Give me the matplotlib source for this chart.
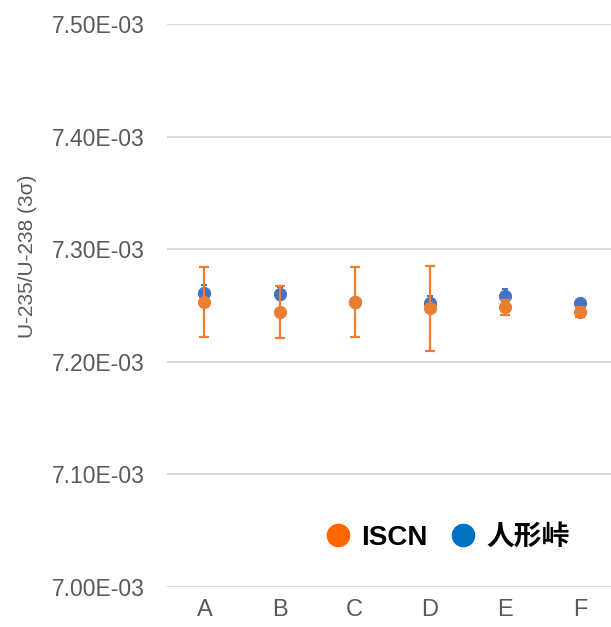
import matplotlib
matplotlib.use("Agg")
import matplotlib.pyplot as plt
from matplotlib.lines import Line2D

plt.rcParams['font.family'] = ['Liberation Sans', 'Noto Sans CJK JP', 'DejaVu Sans']

categories = ["A", "B", "C", "D", "E", "F"]
iscn = [7.2531e-3, 7.2442e-3, 7.2534e-3, 7.2475e-3, 7.2484e-3, 7.2445e-3]
iscn_err = [0.0310e-3, 0.0235e-3, 0.0310e-3, 0.0378e-3, 0.0065e-3, 0.0045e-3]
ningyo = [7.2608e-3, 7.2605e-3, 7.2530e-3, 7.2520e-3, 7.2587e-3, 7.2525e-3]
ningyo_err = [0.0075e-3, 0.0055e-3, 0.0040e-3, 0.0060e-3, 0.0060e-3, 0.0030e-3]
yticks = [7.00e-3, 7.10e-3, 7.20e-3, 7.30e-3, 7.40e-3, 7.50e-3]

fig = plt.figure(figsize=(6.11, 6.27), dpi=100)
ax = fig.add_axes([0.273, 0.0638, 0.727, 0.8979])

x = list(range(len(categories)))
ax.errorbar(x, ningyo, yerr=ningyo_err, fmt='o', color='#4472C4', ecolor='#4472C4',
            markersize=8.5, elinewidth=1.5, capsize=2.5, capthick=1.5, zorder=3)
ax.errorbar(x, iscn, yerr=iscn_err, fmt='o', color='#ED7D31', ecolor='#ED7D31',
            markersize=8.5, elinewidth=1.6, capsize=3.3, capthick=1.6, zorder=4)

ax.set_ylim(7.00e-3, 7.50e-3)
ax.set_xlim(-0.5, 5.41)
ax.set_yticks(yticks)
ax.set_yticklabels(["%.2fE-03" % (v * 1e3) for v in yticks])
ax.set_xticks(x)
ax.set_xticklabels(categories)
ax.yaxis.grid(True, color='#D9D9D9', linewidth=1.5, zorder=0)
ax.set_axisbelow(True)
for s in ax.spines.values():
    s.set_visible(False)
ax.tick_params(axis='both', length=0, colors='#595959')
ax.tick_params(axis='y', pad=16, labelsize=16.5)
ax.tick_params(axis='x', pad=9, labelsize=17)
ax.set_ylabel("U-235/U-238 (3σ)", color='#595959', fontsize=15)
ax.yaxis.set_label_coords(-0.293, 0.588)

handles = [Line2D([], [], marker='o', linestyle='none', color='#FF6600', markersize=16),
           Line2D([], [], marker='o', linestyle='none', color='#0070C0', markersize=16)]
leg = ax.legend(handles, ["ISCN", "人形峠"], loc='center right', bbox_to_anchor=(0.938, 0.087),
                ncol=2, frameon=False, handletextpad=0.25, columnspacing=0.65, handlelength=1.2,
                borderpad=0, prop={'weight': 'bold', 'size': 20})

fig.savefig("out.png", dpi=100)
